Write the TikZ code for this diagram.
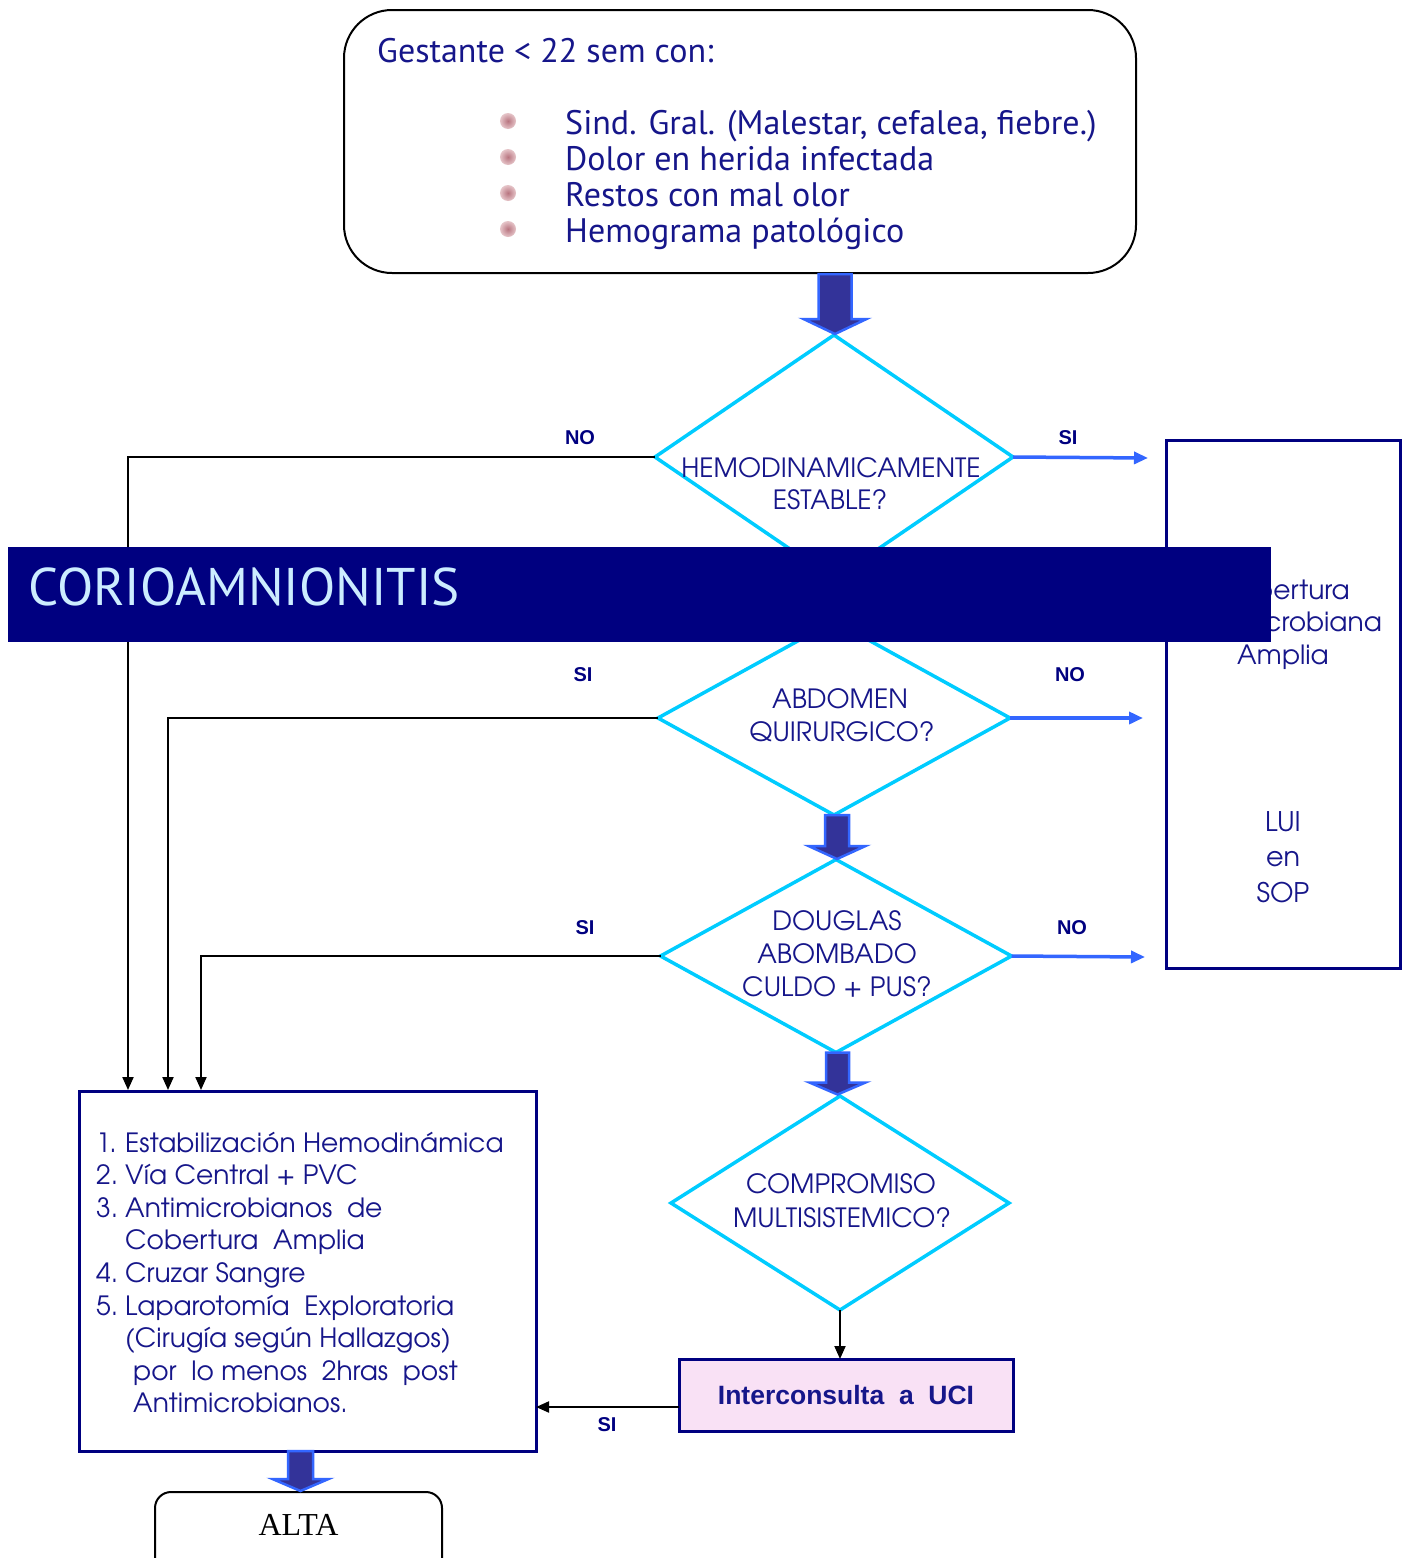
\documentclass[tikz,border=0pt]{standalone}
\usepackage{fontspec}
\setmainfont{TeX Gyre Adventor}
\newfontfamily\twfont{PT Sans}
\newfontfamily\arialfont{Liberation Sans}
\newfontfamily\timesfont{Liberation Serif}
\usetikzlibrary{shapes.geometric,arrows.meta,calc}

\definecolor{navy}{HTML}{000080}
\definecolor{txtblue}{HTML}{16168A}
\definecolor{cyanline}{HTML}{00CCFF}
\definecolor{brightblue}{HTML}{3366FF}
\definecolor{arrowfill}{HTML}{333399}
\definecolor{pinkfill}{HTML}{F9E1F5}
\definecolor{bannertext}{HTML}{CCECFF}
\definecolor{bulletin}{HTML}{B87580}
\definecolor{bulletout}{HTML}{E6C5C9}

\tikzset{
  decision/.style={diamond, draw=cyanline, line width=3.5pt, inner sep=0pt, outer sep=0pt},
  dtext/.style={anchor=base, text=txtblue, inner sep=0pt, font=\fontsize{26.5}{32}\selectfont},
  lbl/.style={text=navy, inner sep=0pt, font=\arialfont\bfseries\fontsize{20}{20}\selectfont},
  navybox/.style={draw=navy, line width=3pt, inner sep=0pt, outer sep=0pt},
  blackarrow/.style={draw=black, line width=2pt, -{Triangle[length=13pt,width=11pt]}},
  bluearrow/.style={draw=brightblue, line width=3.5pt, -{Triangle[length=14pt,width=12pt]}},
  blockarr/.style={fill=arrowfill, draw=brightblue, line width=2.5pt, line join=miter},
  bulletdot/.style={circle, inner sep=0pt, minimum size=16pt, inner color=bulletin, outer color=bulletout},
}

% downward block arrow: anchor, half shaft, shaft length, half head, head length
\newcommand{\blockdown}[5]{%
  \draw[blockarr] ($(#1)+(-#2,0)$) -- ($(#1)+(-#2,#3)$) -- ($(#1)+(-#4,#3)$)
    -- ($(#1)+(0,#3+#5)$) -- ($(#1)+(#4,#3)$) -- ($(#1)+(#2,#3)$) -- ($(#1)+(#2,0)$) -- cycle;}

\begin{document}
\begin{tikzpicture}[x=1pt,y=-1pt]
\useasboundingbox (0,0) rectangle (1407,1558);
\clip (0,0) rectangle (1407,1558);
\fill[white] (0,0) rectangle (1407,1558);

% ---------- starting box ----------
\node[draw=black, line width=2pt, rounded corners=48pt, minimum width=792pt, minimum height=263pt,
      inner sep=0pt] (start) at (740,141.5) {};
\node[anchor=base west, text=txtblue, inner sep=0pt, font=\twfont\fontsize{34}{36}\selectfont]
  (gest) at (377,62) {Gestante < 22 sem con:};
\foreach \i/\yy in {1/121,2/157,3/193,4/229}
  \node[bulletdot] (b\i) at (508,\yy) {};
\node[anchor=base west, text=txtblue, inner sep=0pt, font=\twfont\fontsize{34}{36}\selectfont]
  (symptoms) at (565,134) {\begin{tabular}[t]{@{}l@{}}
  Sind. Gral. (Malestar, cefalea, fiebre.)\\
  Dolor en herida infectada\\
  Restos con mal olor\\
  Hemograma patológico
  \end{tabular}};

% ---------- decisions ----------
\node[decision, minimum width=358pt, minimum height=244pt] (d1) at (834,457) {};
\node[dtext] (t1a) at (831,477) {HEMODINAMICAMENTE};
\node[dtext] (t1b) at (830,509) {ESTABLE?};

\node[decision, minimum width=352pt, minimum height=194pt] (d2) at (834,718) {};
\node[dtext] (t2a) at (840,708) {ABDOMEN};
\node[dtext] (t2b) at (842,741) {QUIRURGICO?};

\node[decision, minimum width=351pt, minimum height=193pt] (d3) at (836,956) {};
\node[dtext] (t3a) at (837,930) {DOUGLAS};
\node[dtext] (t3b) at (837,963) {ABOMBADO};
\node[dtext] (t3c) at (837,996) {CULDO + PUS?};

\node[decision, minimum width=338pt, minimum height=214pt] (d4) at (840,1203) {};
\node[dtext] (t4a) at (841,1193) {COMPROMISO};
\node[dtext] (t4b) at (842,1227) {MULTISISTEMICO?};

% ---------- block arrows between steps ----------
\coordinate (a1) at ($(start.south)+(95,0)$);
\blockdown{a1}{16.5}{45}{31.5}{15}
\coordinate (a2) at ($(d2.south)+(3,0)$);
\blockdown{a2}{12}{31}{28.5}{13}
\coordinate (a3) at ($(d3.south)+(1.5,0)$);
\blockdown{a3}{11.5}{30}{28}{12}

% ---------- right box ----------
\node[navybox, minimum width=234pt, minimum height=528pt] (rbox) at (1283,704) {};
\node[anchor=base, text=txtblue, inner sep=0pt, font=\fontsize{26.5}{32.5}\selectfont]
  (cob) at (1283,599) {\begin{tabular}[t]{@{}c@{}}Cobertura\\Antimicrobiana\\Amplia\end{tabular}};
\node[anchor=base, text=txtblue, inner sep=0pt, font=\fontsize{27}{35.5}\selectfont]
  (lui) at (1283,831) {\begin{tabular}[t]{@{}c@{}}LUI\\en\\SOP\end{tabular}};

\coordinate (r1) at (1148,458);
\coordinate (r2) at (1143,718);
\coordinate (r3) at (1145,957);
\draw[bluearrow] (d1.east) -- (r1);
\draw[bluearrow] (d2.east) -- (r2);
\draw[bluearrow] (d3.east) -- (r3);

% ---------- management box ----------
\node[navybox, minimum width=457pt, minimum height=360pt] (lbox) at (307.5,1271) {};
\node[anchor=base west, text=txtblue, inner sep=0pt, font=\fontsize{26.5}{32.6}\selectfont]
  (steps) at (96,1152) {\begin{tabular}[t]{@{}p{29pt}@{}l@{}}
  1. & Estabilización Hemodinámica\\
  2. & Vía Central + PVC\\
  3. & Antimicrobianos\ \ de\\
     & Cobertura\ \ Amplia\\
  4. & Cruzar Sangre\\
  5. & Laparotomía\ \ Exploratoria\\
     & (Cirugía según Hallazgos)\\
     & \hspace{8pt}por\ \ lo menos\ \ 2hras\ \ post\\
     & \hspace{8pt}Antimicrobianos.
  \end{tabular}};

\coordinate (e1) at ($(lbox.north west)+(49,-1)$);
\coordinate (e2) at ($(lbox.north west)+(89,-1)$);
\coordinate (e3) at ($(lbox.north west)+(122,-1)$);
\draw[blackarrow] (d1.west) -| (e1);
\draw[blackarrow] (d2.west) -| (e2);
\draw[blackarrow] (d3.west) -| (e3);

% ---------- title banner (lies over the chart) ----------
\node[fill=navy, minimum width=1263pt, minimum height=95pt, inner sep=0pt] (banner) at (639.5,594.5) {};
\node[anchor=base west, text=bannertext, inner sep=0pt, font=\twfont\fontsize{53}{53}\selectfont]
  (title) at (28,605) {CORIOAMNIONITIS};

% ---------- ICU consult ----------
\node[navybox, fill=pinkfill, minimum width=334pt, minimum height=72pt] (uci) at (846,1395)
  {\arialfont\bfseries\fontsize{26.5}{26.5}\selectfont\color{txtblue}Interconsulta\ \ a\ \ UCI};
\draw[blackarrow] (d4.south) -- (d4.south |- uci.north);
\coordinate (u1) at ($(uci.west)+(0,12)$);
\draw[blackarrow] (u1) -- (u1 -| lbox.east);

% ---------- discharge ----------
\node[draw=black, line width=2pt, rounded corners=16pt, minimum width=287pt, minimum height=90pt,
      inner sep=0pt] (alta) at (298.5,1537) {};
\node[anchor=base, inner sep=0pt, font=\timesfont\fontsize{32}{32}\selectfont] (altatxt) at (298.5,1535) {ALTA};
\coordinate (a4) at ($(lbox.south)+(-7,0)$);
\blockdown{a4}{12.5}{28}{28}{12}

% ---------- branch labels ----------
\node[lbl] (no1) at (580,438) {NO};
\node[lbl] (si1) at (1068,438) {SI};
\node[lbl] (si2) at (583,675) {SI};
\node[lbl] (no2) at (1070,675) {NO};
\node[lbl] (si3) at (585,928) {SI};
\node[lbl] (no3) at (1072,928) {NO};
\node[lbl] (si4) at (607,1425) {SI};
\end{tikzpicture}
\end{document}
